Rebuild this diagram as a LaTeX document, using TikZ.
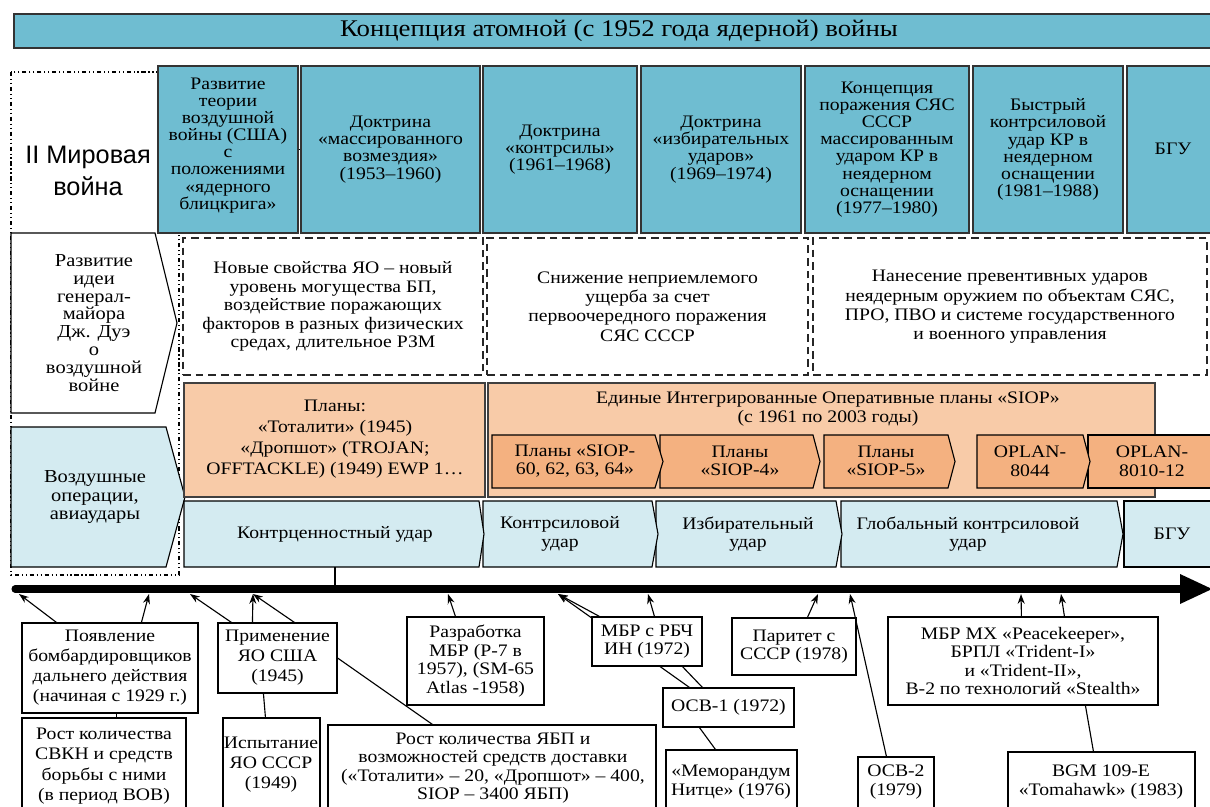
\documentclass[tikz,border=0pt]{standalone}
\usepackage{fontspec}
\setmainfont{Liberation Serif}[FakeStretch=1.12]
\newfontfamily\mirfont{Liberation Sans}
\usetikzlibrary{calc,fit,backgrounds,arrows.meta}

\definecolor{tealc}{RGB}{111,189,209}
\definecolor{lblue}{RGB}{212,235,241}
\definecolor{peach}{RGB}{248,203,168}
\definecolor{orng}{RGB}{244,177,128}

% chevron: x left, x right, x tip, y top, y bottom, style
\newcommand{\chev}[6]{%
  \draw[#6] (#1,#4) -- (#2,#4) -- (#3,{(#4+#5)/2}) -- (#2,#5) -- (#1,#5) -- cycle;}

\tikzset{
  txt/.style={align=center, inner sep=0pt, font=\fontsize{12.5}{13.2}\selectfont},
  toptxt/.style={txt, font=\fontsize{12.5}{12.2}\selectfont},
  evtxt/.style={txt, font=\fontsize{12.5}{14.2}\selectfont},
  titlebox/.style={draw=black!80, line width=1.6pt, fill=tealc, inner sep=0pt},
  topbox/.style={draw=black!80, line width=1pt, fill=tealc, inner sep=0pt},
  dashbox/.style={draw=black!85, line width=0.8pt, inner sep=0pt, dash pattern=on 5.5pt off 3.5pt},
  planbox/.style={draw=black!75, line width=0.8pt, fill=peach, inner sep=0pt},
  evbox/.style={draw=black, line width=0.8pt, fill=white, inner sep=0pt},
  conn/.style={line width=0.8pt, -{Stealth[length=7pt,width=5pt]}},
  frame/.style={line width=0.8pt, dash dot dot}
}

\begin{document}
\begin{tikzpicture}[x=0.025cm, y=-0.025cm]
  \useasboundingbox (0,0) rectangle (1210,807);
  \clip (0,0) rectangle (1210,807);

  % Frame of the left column
  \draw[frame] (11,72) rectangle (179,575);

  % Title
  \node[titlebox, fit={(14,14) (1225,48)}] (title) {};
  \node[txt, font=\fontsize{17}{20}\selectfont] (titlex) at (619,31)
    {Концепция атомной (с 1952 года ядерной) войны};

  % Doctrines
  \node[topbox, fit={(158,66) (298,233)}] (t1) {};
  \node[topbox, fit={(301,66) (480,233)}] (t2) {};
  \node[topbox, fit={(483,66) (637,233)}] (t3) {};
  \node[topbox, fit={(641,66) (801,233)}] (t4) {};
  \node[topbox, fit={(805,66) (969,233)}] (t5) {};
  \node[topbox, fit={(973,66) (1123,233)}] (t6) {};
  \node[topbox, fit={(1127,66) (1220,233)}] (t7) {};
  \draw[line width=0.8pt] (t1.east) -- (t2.west);
  \node[toptxt] (t1x) at ([yshift=3pt]t1.center)
    {Развитие\\теории\\воздушной\\войны (США)\\с\\положениями\\«ядерного\\блицкрига»};
  \node[toptxt] (t2x) at (t2.center) {Доктрина\\«массированного\\возмездия»\\(1953–1960)};
  \node[toptxt] (t3x) at (t3.center) {Доктрина\\«контрсилы»\\(1961–1968)};
  \node[toptxt] (t4x) at (t4.center) {Доктрина\\«избирательных\\ударов»\\(1969–1974)};
  \node[toptxt] (t5x) at (t5.center)
    {Концепция\\поражения СЯС\\СССР\\массированным\\ударом КР в\\неядерном\\оснащении\\(1977–1980)};
  \node[toptxt] (t6x) at (t6.center)
    {Быстрый\\контрсиловой\\удар КР в\\неядерном\\оснащении\\(1981–1988)};
  \node[toptxt] (t7x) at (1173,149) {БГУ};

  \node[font=\mirfont\fontsize{18}{22.7}\selectfont, align=center, inner sep=0pt]
    (war) at (88,171) {II Мировая\\война};

  % Left column
  \draw[line width=0.8pt, fill=white] (11,233) -- (155,233) -- (177,323) -- (155,413) -- (11,413) -- cycle;
  \node[txt, font=\fontsize{13}{12.7}\selectfont] (duet) at (94,323)
    {Развитие\\идеи\\генерал-\\майора\\Дж. Дуэ\\о\\воздушной\\войне};
  \draw[line width=0.8pt, fill=lblue] (11,427) -- (166,427) -- (185,497) -- (166,567) -- (11,567) -- cycle;
  \node[txt, font=\fontsize{13}{13.1}\selectfont] (air) at (95,497)
    {Воздушные\\операции,\\авиаудары};

  % Ideas
  \node[dashbox, fit={(183,238) (483,375)}] (d1) {};
  \node[dashbox, fit={(487,238) (808,375)}] (d2) {};
  \node[dashbox, fit={(813,238) (1207,375)}] (d3) {};
  \node[txt] (d1x) at (d1.center)
    {Новые свойства ЯО – новый\\уровень могущества БП,\\воздействие поражающих\\факторов в разных физических\\средах, длительное РЗМ};
  \node[txt, font=\fontsize{12.5}{13.7}\selectfont] (d2x) at (d2.center)
    {Снижение неприемлемого\\ущерба за счет\\первоочередного поражения\\СЯС СССР};
  \node[txt, font=\fontsize{12.5}{13.7}\selectfont] (d3x) at (1010,307)
    {Нанесение превентивных ударов\\неядерным оружием по объектам СЯС,\\ПРО, ПВО и системе государственного\\и военного управления};

  % Plans
  \node[planbox, fit={(184,383) (485,497)}] (plans) {};
  \node[txt, font=\fontsize{12.5}{14.9}\selectfont] (plansx) at (335,439)
    {Планы:\\«Тоталити» (1945)\\«Дропшот» (TROJAN;\\OFFTACKLE) (1949) EWP 1…};
  \node[planbox, fit={(488,383) (1155,497)}] (siop) {};
  \node[txt] (siopx) at (828,409)
    {Единые Интегрированные Оперативные планы «SIOP»\\(с 1961 по 2003 годы)};

  \chev{1088}{1225}{1225}{435}{488}{line width=0.8pt, fill=orng}
  \chev{977}{1083}{1090}{435}{488}{line width=0.8pt, fill=orng}
  \chev{824}{948}{955}{435}{488}{line width=0.8pt, fill=orng}
  \chev{660}{813}{820}{435}{488}{line width=0.8pt, fill=orng}
  \chev{492}{655}{663}{435}{488}{line width=0.8pt, fill=orng}
  \node[txt] (c1) at (575,461) {Планы «SIOP-\\60, 62, 63, 64»};
  \node[txt] (c2) at (740,461) {Планы\\«SIOP-4»};
  \node[txt] (c3) at (886,461) {Планы\\«SIOP-5»};
  \node[txt] (c4) at (1030,461) {OPLAN-\\8044};
  \node[txt] (c5) at (1152,461) {OPLAN-\\8010-12};

  % Strikes
  \chev{1124}{1225}{1225}{501}{567}{line width=0.8pt, fill=lblue}
  \chev{841}{1117}{1123}{501}{567}{line width=0.8pt, fill=lblue}
  \chev{656}{836}{842}{501}{567}{line width=0.8pt, fill=lblue}
  \chev{483}{652}{658}{501}{567}{line width=0.8pt, fill=lblue}
  \chev{184}{479}{484}{501}{567}{line width=0.8pt, fill=lblue}
  \node[txt] (s1) at (335,534) {Контрценностный удар};
  \node[txt] (s2) at (560,534) {Контрсиловой\\удар};
  \node[txt] (s3) at (748,534) {Избирательный\\удар};
  \node[txt] (s4) at (968,534) {Глобальный контрсиловой\\удар};
  \node[txt] (s5) at (1172,534) {БГУ};

  % Time axis
  \coordinate (s1b) at (335,567);
  \coordinate (tl) at (335,589);
  \draw[line width=0.8pt] (s1b) -- (tl);
  \draw[line width=5pt, line cap=round] (15,589) -- (1185,589);
  \fill (1180,574) -- (1212,589) -- (1180,604) -- cycle;

  \coordinate (x19) at (19,594);
  \coordinate (x149) at (149,594);
  \coordinate (x190) at (190,594);
  \coordinate (x253) at (253,594);
  \coordinate (x448) at (448,594);
  \coordinate (x558) at (558,594);
  \coordinate (x648) at (648,594);
  \coordinate (x818) at (818,594);
  \coordinate (x850) at (850,594);
  \coordinate (x1021) at (1021,594);
  \coordinate (x1061) at (1061,594);

  % Events
  \node[evbox, fit={(22,623) (198,713)}] (b1) {};
  \node[evbox, fit={(22,718) (186,812)}] (b2) {};
  \node[evbox, fit={(218,623) (337,693)}] (b3) {};
  \node[evbox, fit={(223,718) (320,812)}] (b4) {};
  \node[evbox, fit={(407,617) (544,705)}] (b5) {};
  \node[evbox, fit={(328,725) (656,812)}] (b6) {};
  \node[evbox, fit={(592,617) (702,666)}] (b7) {};
  \node[evbox, fit={(663,688) (794,727)}] (b8) {};
  \node[evbox, fit={(666,750) (797,812)}] (b9) {};
  \node[evbox, fit={(732,618) (856,675)}] (b10) {};
  \node[evbox, fit={(858,757) (934,812)}] (b11) {};
  \node[evbox, fit={(888,617) (1158,705)}] (b12) {};
  \node[evbox, fit={(1008,752) (1195,812)}] (b13) {};

  \node[evtxt] (b1x) at (b1.center)
    {Появление\\бомбардировщиков\\дальнего действия\\(начиная с 1929 г.)};
  \node[evtxt, font=\fontsize{12.5}{14.5}\selectfont] (b2x) at (104,766)
    {Рост количества\\СВКН и средств\\борьбы с ними\\(в период ВОВ)};
  \node[evtxt] (b3x) at (b3.center) {Применение\\ЯО США\\(1945)};
  \node[evtxt] (b4x) at (271,765) {Испытание\\ЯО СССР\\(1949)};
  \node[evtxt, font=\fontsize{12.5}{13.4}\selectfont] (b5x) at (b5.center)
    {Разработка\\МБР (Р-7 в\\1957), (SM-65\\Atlas -1958)};
  \node[evtxt, font=\fontsize{12.5}{13.2}\selectfont] (b6x) at (493,768)
    {Рост количества ЯБП и\\возможностей средств доставки\\(«Тоталити» – 20, «Дропшот» – 400,\\SIOP – 3400 ЯБП)};
  \node[evtxt, font=\fontsize{12.5}{13.2}\selectfont] (b7x) at (b7.center) {МБР с РБЧ\\ИН (1972)};
  \node[evtxt] (b8x) at (b8.center) {ОСВ-1 (1972)};
  \node[evtxt, font=\fontsize{12.5}{13.4}\selectfont] (b9x) at (731,782)
    {«Меморандум\\Нитце» (1976)};
  \node[evtxt, font=\fontsize{12.5}{13.2}\selectfont] (b10x) at (b10.center)
    {Паритет с\\СССР (1978)};
  \node[evtxt, font=\fontsize{12.5}{13.4}\selectfont] (b11x) at (896,782) {ОСВ-2\\(1979)};
  \node[evtxt, font=\fontsize{12.5}{13.1}\selectfont] (b12x) at (b12.center)
    {МБР МХ «Peacekeeper»,\\БРПЛ «Trident-I»\\и «Trident-II»,\\B-2 по технологий «Stealth»};
  \node[evtxt, font=\fontsize{12.5}{13.4}\selectfont] (b13x) at (1101,782)
    {BGM 109-E\\«Tomahawk» (1983)};

  \begin{scope}[on background layer]
    \draw[conn] ($(b1.north west)+(35,0)$) -- (x19);
    \draw[conn] ($(b1.north west)+(120,0)$) -- (x149);
    \draw[line width=0.8pt] ($(b2.north west)+(95,0)$) -- ($(b1.south west)+(95,0)$);
    \draw[conn] ($(b3.north west)+(14,0)$) -- (x190);
    \draw[conn] ($(b3.north west)+(35,0)$) -- (x253);
    \draw[conn] ($(b3.north west)+(77,0)$) -- (x253);
    \draw[line width=0.8pt] ($(b3.south west)+(46,0)$) -- ($(b4.north west)+(43,0)$);
    \draw[line width=0.8pt] (b3.east) -- ($(b6.north west)+(105,0)$);
    \draw[conn] ($(b5.north west)+(49,0)$) -- (x448);
    \draw[conn] ($(b8.north west)+(27,0)$) -- (x558);
    \draw[line width=0.8pt] ($(b8.north west)+(40,0)$) -- ($(b7.south west)+(91,0)$);
    \draw[conn] ($(b7.north west)+(8,0)$) -- (x558);
    \draw[conn] ($(b7.north west)+(63,0)$) -- (x648);
    \draw[line width=0.8pt] ($(b9.north west)+(50,0)$) -- ($(b8.south west)+(37,0)$);
    \draw[conn] ($(b10.north west)+(76,0)$) -- (x818);
    \draw[conn] ($(b11.north west)+(29,0)$) -- (x850);
    \draw[conn] ($(b12.north west)+(134,0)$) -- (x1021);
    \draw[conn] ($(b12.north west)+(177,0)$) -- (x1061);
    \draw[line width=0.8pt] ($(b13.north west)+(86,0)$) -- ($(b12.south west)+(198,0)$);
  \end{scope}
\end{tikzpicture}
\end{document}
